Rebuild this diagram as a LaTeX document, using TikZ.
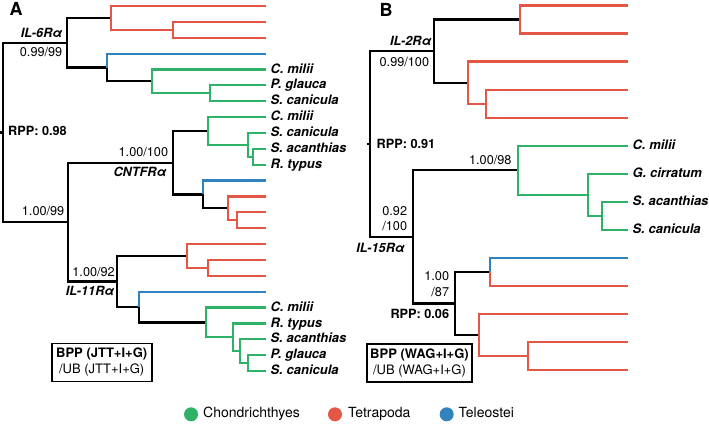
\documentclass[tikz,border=0pt]{standalone}
\usepackage{fontspec}
\setmainfont{TeX Gyre Heros}
\usetikzlibrary{calc}
\definecolor{tetc}{HTML}{E45746}
\definecolor{chc}{HTML}{2EB268}
\definecolor{telc}{HTML}{3182BD}
\begin{document}
\begin{tikzpicture}[x=1pt,y=-1pt,
 bk/.style={draw=black,line width=2.2},
 rd/.style={draw=tetc,line width=2.2},
 gn/.style={draw=chc,line width=2.2},
 bl/.style={draw=telc,line width=2.2},
 txt/.style={inner sep=0pt,font=\fontsize{12.7}{14}\selectfont,text height=0.72em,text depth=0pt},
 lbl/.style={txt,anchor=east},
 clade/.style={txt,anchor=east,font=\fontsize{12.7}{14}\selectfont\bfseries\itshape},
 rpp/.style={txt,font=\fontsize{12.7}{14}\selectfont\bfseries},
 sp/.style={txt,anchor=west,xshift=4.5,font=\fontsize{13}{14}\selectfont\bfseries\itshape},
 panel/.style={txt,font=\fontsize{18}{20}\selectfont\bfseries},
 keybox/.style={draw,line width=1.7,inner sep=0pt,minimum width=#1,minimum height=38,align=center,font=\fontsize{13}{16}\selectfont},
 leg/.style={txt,font=\fontsize{14}{16}\selectfont}
]
\useasboundingbox (0,0) rectangle (709,423);

% ---------------- Panel A ----------------
\node[panel] (pA) at (16,11.5) {A};
\foreach \i/\y in {0/6.0,1/21.87,2/37.74,3/53.61,4/69.48,5/85.35,6/101.22,7/117.09,8/132.96,9/148.83,10/164.7,11/180.57,12/196.44,13/212.31,14/228.18,15/244.05,16/259.92,17/275.79,18/291.66,19/307.53,20/323.4,21/339.27,22/355.14,23/371.01}
  \coordinate (a\i) at (266,\y);
\coordinate (r1in) at (173,29.8);
\coordinate (r1) at (111,17.9);
\coordinate (g1in) at (210,93.29);
\coordinate (g1) at (152,81.38);
\coordinate (b1n) at (107,67.5);
\coordinate (IL6) at (67,42.7);
\coordinate (g2c) at (253,156.77);
\coordinate (g2b) at (248,144.86);
\coordinate (g2) at (208,130.98);
\coordinate (r2in) at (237,220.25);
\coordinate (r2) at (228,208.34);
\coordinate (b2n) at (203,194.46);
\coordinate (CNTF) at (173,162.72);
\coordinate (r3in) at (208,267.86);
\coordinate (r3) at (187,255.95);
\coordinate (g3d) at (248.3,363.08);
\coordinate (g3c) at (240,351.17);
\coordinate (g3b) at (233.3,337.29);
\coordinate (g3) at (205.7,322.41);
\coordinate (b3n) at (139.3,307.04);
\coordinate (IL11) at (117.3,281.5);
\coordinate (N1) at (68,222.1);
\coordinate (rootA) at (3,132.4);
\coordinate (stubA) at (0,132.4);

\draw[bk] (stubA) -- (rootA);
\draw[bk] (rootA) |- (IL6);
\draw[bk] (rootA) |- (N1);
\draw[bk] (IL6) |- (r1);
\draw[rd] (r1) |- (a0);
\draw[rd] (r1) |- (r1in);
\draw[rd] (r1in) |- (a1);
\draw[rd] (r1in) |- (a2);
\draw[bk] (IL6) |- (b1n);
\draw[bl] (b1n) |- (a3);
\draw[bk] (b1n) |- (g1);
\draw[gn] (g1) |- (a4);
\draw[gn] (g1) |- (g1in);
\draw[gn] (g1in) |- (a5);
\draw[gn] (g1in) |- (a6);
\draw[bk] (N1) |- (CNTF);
\draw[bk] (N1) |- (IL11);
\draw[bk] (CNTF) |- (g2);
\draw[gn] (g2) |- (a7);
\draw[gn] (g2) |- (g2b);
\draw[gn] (g2b) |- (a8);
\draw[gn] (g2b) |- (g2c);
\draw[gn] (g2c) |- (a9);
\draw[gn] (g2c) |- (a10);
\draw[bk] (CNTF) |- (b2n);
\draw[bl] (b2n) |- (a11);
\draw[bk] (b2n) |- (r2);
\draw[rd] (r2) |- (a12);
\draw[rd] (r2) |- (r2in);
\draw[rd] (r2in) |- (a13);
\draw[rd] (r2in) |- (a14);
\draw[bk] (IL11) |- (r3);
\draw[rd] (r3) |- (a15);
\draw[rd] (r3) |- (r3in);
\draw[rd] (r3in) |- (a16);
\draw[rd] (r3in) |- (a17);
\draw[bk] (IL11) |- (b3n);
\draw[bl] (b3n) |- (a18);
\draw[bk] (b3n) |- (g3);
\draw[gn] (g3) |- (a19);
\draw[gn] (g3) |- (g3b);
\draw[gn] (g3b) |- (a20);
\draw[gn] (g3b) |- (g3c);
\draw[gn] (g3c) |- (a21);
\draw[gn] (g3c) |- (g3d);
\draw[gn] (g3d) |- (a22);
\draw[gn] (g3d) |- (a23);

\node[sp] (la4) at (a4) {C. milii};
\node[sp] (la5) at (a5) {P. glauca};
\node[sp] (la6) at (a6) {S. canicula};
\node[sp] (la7) at (a7) {C. milii};
\node[sp] (la8) at (a8) {S. canicula};
\node[sp] (la9) at (a9) {S. acanthias};
\node[sp] (la10) at (a10) {R. typus};
\node[sp] (la19) at (a19) {C. milii};
\node[sp] (la20) at (a20) {R. typus};
\node[sp] (la21) at (a21) {S. acanthias};
\node[sp] (la22) at (a22) {P. glauca};
\node[sp] (la23) at (a23) {S. canicula};

\node[clade] (tIL6) at (62.5,34) {IL-6Rα};
\node[lbl] (sIL6) at (62.5,52.5) {0.99/99};
\node[rpp,anchor=west] (rppA) at (8,132) {RPP: 0.98};
\node[lbl] (sCNTF) at (168.3,153.3) {1.00/100};
\node[clade] (tCNTF) at (166.7,173.3) {CNTFRα};
\node[lbl] (sN1) at (64.5,211.7) {1.00/99};
\node[lbl] (sIL11) at (115,272.7) {1.00/92};
\node[clade] (tIL11) at (114.5,292.3) {IL-11Rα};
\node[keybox=100] (boxA) at (101.7,362.5) {\textbf{BPP (JTT+I+G)}\\/UB (JTT+I+G)};

% ---------------- Panel B ----------------
\node[panel] (pB) at (386,12.5) {B};
\foreach \j/\y in {0/5.5,1/33.54,2/61.58,3/89.62,4/117.66,5/145.7,6/173.74,7/201.78,8/229.82,9/257.86,10/285.9,11/313.94,12/341.98,13/370.02}
  \coordinate (b\j) at (628,\y);
\coordinate (br1) at (520,19.52);
\coordinate (br2in) at (486,103.64);
\coordinate (br2) at (468.3,82.61);
\coordinate (IL2) at (434,51.07);
\coordinate (bg3) at (601.7,215.8);
\coordinate (bg2) at (588.3,194.77);
\coordinate (bg) at (517.7,170.24);
\coordinate (bb1) at (490,271.88);
\coordinate (brin) at (527.7,356.0);
\coordinate (br3) at (479,334.97);
\coordinate (N87) at (455,303.43);
\coordinate (IL15) at (412.7,236.83);
\coordinate (rootB) at (370,143.95);
\coordinate (stubB) at (367,143.95);

\draw[bk] (stubB) -- (rootB);
\draw[bk] (rootB) |- (IL2);
\draw[bk] (rootB) |- (IL15);
\draw[bk] (IL2) |- (br1);
\draw[rd] (br1) |- (b0);
\draw[rd] (br1) |- (b1);
\draw[bk] (IL2) |- (br2);
\draw[rd] (br2) |- (b2);
\draw[rd] (br2) |- (br2in);
\draw[rd] (br2in) |- (b3);
\draw[rd] (br2in) |- (b4);
\draw[bk] (IL15) |- (bg);
\draw[gn] (bg) |- (b5);
\draw[gn] (bg) |- (bg2);
\draw[gn] (bg2) |- (b6);
\draw[gn] (bg2) |- (bg3);
\draw[gn] (bg3) |- (b7);
\draw[gn] (bg3) |- (b8);
\draw[bk] (IL15) |- (N87);
\draw[bk] (N87) |- (bb1);
\draw[bl] (bb1) |- (b9);
\draw[rd] (bb1) |- (b10);
\draw[bk] (N87) |- (br3);
\draw[rd] (br3) |- (b11);
\draw[rd] (br3) |- (brin);
\draw[rd] (brin) |- (b12);
\draw[rd] (brin) |- (b13);

\node[sp] (lb5) at (b5) {C. milii};
\node[sp] (lb6) at (b6) {G. cirratum};
\node[sp] (lb7) at (b7) {S. acanthias};
\node[sp] (lb8) at (b8) {S. canicula};

\node[clade] (tIL2) at (431.7,41.7) {IL-2Rα};
\node[lbl] (sIL2) at (429.3,63.3) {0.99/100};
\node[rpp,anchor=west] (rppB) at (376.5,145) {RPP: 0.91};
\node[lbl] (sBG) at (511.7,160.7) {1.00/98};
\node[lbl] (sIL15a) at (407.3,211.7) {0.92};
\node[lbl] (sIL15b) at (407.3,226.7) {/100};
\node[clade] (tIL15) at (405,249.3) {IL-15Rα};
\node[lbl] (sN87a) at (449.3,277.3) {1.00};
\node[lbl] (sN87b) at (449.3,293.3) {/87};
\node[rpp,anchor=east] (rppB2) at (449.3,315) {RPP: 0.06};
\node[keybox=105.6] (boxB) at (419.5,362.8) {\textbf{BPP (WAG+I+G)}\\/UB (WAG+I+G)};

% ---------------- Legend ----------------
\node[leg,anchor=east] (tCh) at (300,414.3) {Chondrichthyes};
\fill[chc] ($(tCh.west)+(-12,0)$) circle (7);
\coordinate (cTe) at (335,414.3);
\fill[tetc] (cTe) circle (7);
\node[leg,anchor=west] (tTe) at (348,414.3) {Tetrapoda};
\coordinate (cTl) at (446.7,414.3);
\fill[telc] (cTl) circle (7);
\node[leg,anchor=west] (tTl) at (458.5,414.3) {Teleostei};
\end{tikzpicture}
\end{document}
